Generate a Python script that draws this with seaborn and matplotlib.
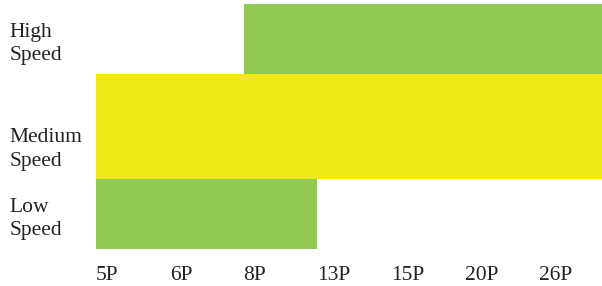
import matplotlib
matplotlib.use("Agg")
import matplotlib.pyplot as plt
import matplotlib.transforms as mtransforms
import seaborn as sns
import pandas as pd

# speed bands and the pack sizes they cover
speeds = ["High\nSpeed", "Medium\nSpeed", "Low\nSpeed"]
sizes = ["5P", "6P", "8P", "13P", "15P", "20P", "26P"]
start_size = ["8P", "5P", "5P"]
end_size = [None, None, "13P"]  # None = open ended, runs past 26P

colors = ["#92C955", "#F1E81A", "#92C955"]
row_heights = [0.8, 1.2, 0.8]

starts = [sizes.index(s) for s in start_size]
ends = [sizes.index(e) if e else len(sizes) + 1 for e in end_size]
df = pd.DataFrame({
    "speed": speeds,
    "start": starts,
    "span": [e - s for s, e in zip(starts, ends)],
})

sns.set_theme(style="white")
plt.rcParams["font.family"] = ["Liberation Serif", "DejaVu Serif"]

fig = plt.figure(figsize=(6.02, 2.86), dpi=100)
ax = fig.add_axes([96 / 602, 37 / 286, 506 / 602, 245 / 286])

sns.barplot(data=df, x="span", y="speed", hue="speed", palette=colors,
            legend=False, orient="h", width=0.8, saturation=1, ax=ax)

# move each bar to its start size, medium row is taller
for i, p in enumerate(ax.patches):
    h = row_heights[i]
    p.set_x(df["start"][i])
    p.set_y(i - h / 2)
    p.set_height(h)
    p.set_linewidth(0)

ax.set_xlim(0, 6.86)
ax.set_ylim(2.4, -0.4)
ax.set_xticks(range(len(sizes)))
ax.set_xticklabels(sizes, ha="left", fontsize=15.5, color="#222222")
ax.set_yticks(range(len(speeds)))
ax.set_yticklabels(speeds, ha="left", fontsize=15.5, color="#222222",
                   linespacing=1.35)
ax.tick_params(axis="x", length=0, pad=12)
ax.tick_params(axis="y", length=0, pad=62)
ax.set_xlabel("")
ax.set_ylabel("")
sns.despine(ax=ax, left=True, bottom=True)

lab = ax.get_yticklabels()[1]
lab.set_transform(lab.get_transform() +
                  mtransforms.ScaledTranslation(0, -0.18, fig.dpi_scale_trans))

fig.savefig("out.png", dpi=100)
